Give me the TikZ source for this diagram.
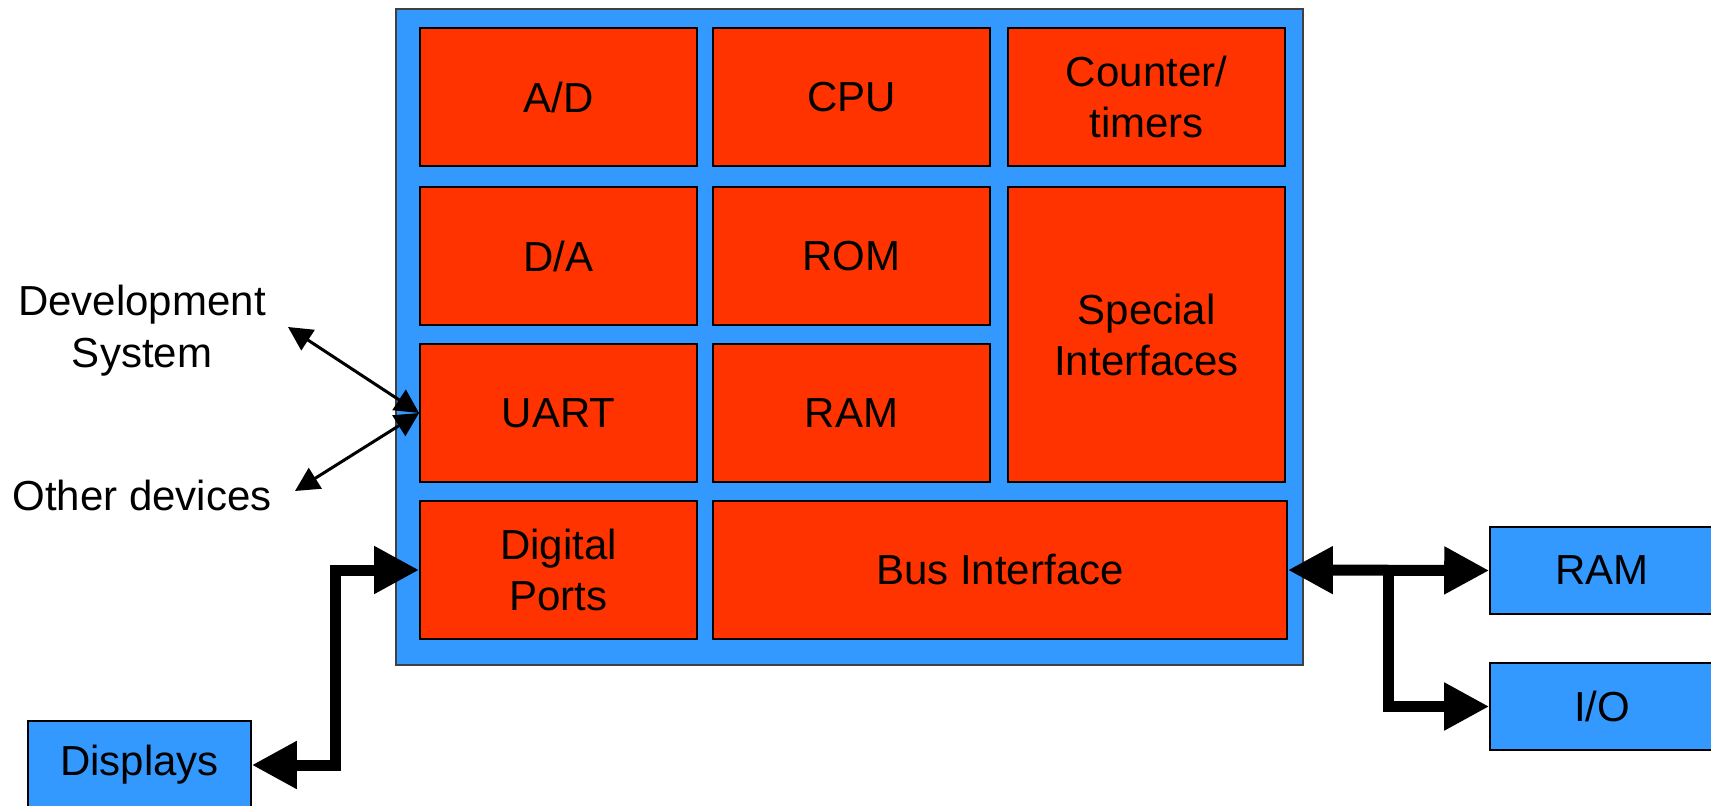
\documentclass[tikz,border=0pt]{standalone}
\usepackage{fontspec}
\setmainfont{Liberation Sans}
\usetikzlibrary{arrows.meta}
\definecolor{chipblue}{HTML}{3399FF}
\definecolor{blockred}{HTML}{FF3300}
\begin{document}
\begin{tikzpicture}[x=0.5pt,y=-0.5pt,
  chip/.style={draw=black!75, line width=0.6pt, fill=chipblue, inner sep=0pt},
  block/.style={draw=black, line width=0.9pt, fill=blockred, inner sep=0pt, align=center, font=\fontsize{21}{25.5}\selectfont},
  ext/.style={draw=black, line width=0.8pt, fill=chipblue, inner sep=0pt, align=center, font=\fontsize{21}{25.5}\selectfont},
  side/.style={align=center, inner sep=0pt, font=\fontsize{21}{26}\selectfont},
  buslink/.style={line width=5.5pt, {Triangle[length=22.5pt,width=22.5pt]}-{Triangle[length=22.5pt,width=22.5pt]}},
  busone/.style={line width=5.5pt, -{Triangle[length=22.5pt,width=22.5pt]}},
  siglink/.style={line width=1.5pt, {Triangle[length=12pt,width=12pt]}-{Triangle[length=12pt,width=12pt]}}]
\clip (0,0) rectangle (1711,806);
\fill[white] (0,0) rectangle (1711,806);
% chip
\node[chip, minimum width=453.5pt, minimum height=328pt] (chip) at (849.5,337) {};
% blocks
\node[block, minimum width=138.5pt, minimum height=69pt] (ad) at (558.5,97) {A/D};
\node[block, minimum width=138.5pt, minimum height=69pt] (cpu) at (851.5,97) {CPU};
\node[block, minimum width=138.5pt, minimum height=69pt] (ct) at (1146.5,97) {Counter/\\timers};
\node[block, minimum width=138.5pt, minimum height=69pt] (da) at (558.5,256) {D/A};
\node[block, minimum width=138.5pt, minimum height=69pt] (rom) at (851.5,256) {ROM};
\node[block, minimum width=138.5pt, minimum height=69pt] (uart) at (558.5,413) {UART};
\node[block, minimum width=138.5pt, minimum height=69pt] (ram) at (851.5,413) {RAM};
\node[block, minimum width=138.5pt, minimum height=147.5pt] (spec) at (1146.5,334.5) {Special\\Interfaces};
\node[block, minimum width=138.5pt, minimum height=69pt] (dp) at (558.5,570) {Digital\\Ports};
\node[block, minimum width=287pt, minimum height=69pt] (busif) at (1000,570) {Bus Interface};
% external
\node[ext, minimum width=112pt, minimum height=43.5pt] (xram) at (1602,570.5) {RAM};
\node[ext, minimum width=112pt, minimum height=43.5pt] (xio) at (1602,706.5) {I/O};
\node[ext, minimum width=111.5pt, minimum height=44pt] (disp) at (139.5,765) {Displays};
% side labels
\node[side] (dev) at (142,331) {Development\\System};
\node[side] (oth) at (142,495) {Other devices};
% connector points
\coordinate (devtip) at (288,327);
\coordinate (othtip) at (295,491);
\coordinate (dl) at (335,570);
\coordinate (jn) at (1388,570);
% connectors
\draw[siglink] (devtip) -- (uart.west);
\draw[siglink] (othtip) -- (uart.west);
\draw[buslink] (dp.west) -- (dl) |- (disp.east);
\draw[buslink] (busif.east) -- (xram.west);
\draw[busone] (jn) |- (xio.west);
\end{tikzpicture}
\end{document}
